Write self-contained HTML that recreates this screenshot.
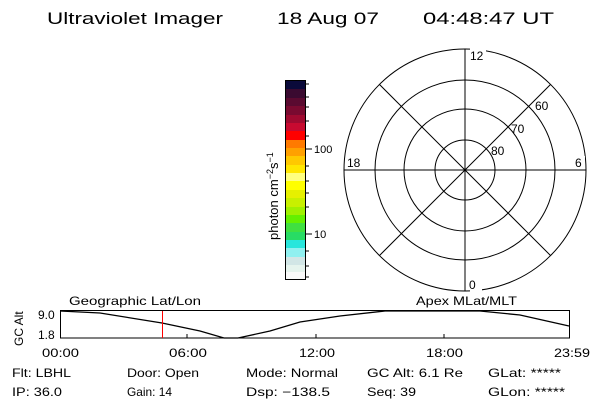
<!DOCTYPE html><html><head><style>body{margin:0;background:#fff}svg{display:block}text{font-family:"Liberation Sans",sans-serif;fill:#000}</style></head><body>
<svg width="600" height="400" xmlns="http://www.w3.org/2000/svg">
<g font-size="17" lengthAdjust="spacingAndGlyphs"><text x="47" y="24" textLength="176" lengthAdjust="spacingAndGlyphs">Ultraviolet Imager</text><text x="277" y="24" textLength="102" lengthAdjust="spacingAndGlyphs">18 Aug 07</text><text x="423" y="24" textLength="131" lengthAdjust="spacingAndGlyphs">04:48:47 UT</text></g>
<g stroke="#000" fill="none" stroke-width="1">
<circle cx="465" cy="170" r="121"/><circle cx="465" cy="170" r="90"/><circle cx="465" cy="170" r="61"/><circle cx="465" cy="170" r="30"/>
<line x1="465" y1="49" x2="465" y2="291"/><line x1="344" y1="170" x2="586" y2="170"/>
<line x1="379.4" y1="84.4" x2="550.6" y2="255.6"/><line x1="550.6" y1="84.4" x2="379.4" y2="255.6"/>
</g>
<rect x="470" y="48" width="16" height="14" fill="#fff"/><rect x="470" y="278" width="12" height="14" fill="#fff"/>
<rect x="346" y="156" width="18" height="13" fill="#fff"/><rect x="573" y="156" width="12" height="13" fill="#fff"/>
<g font-size="12"><text x="470" y="60">12</text><text x="469" y="289">0</text><text x="347" y="167">18</text><text x="575" y="167">6</text>
<text x="535" y="110">60</text><text x="511" y="133">70</text><text x="491" y="155">80</text></g>
<g font-size="11"><text x="314" y="153">100</text><text x="314" y="238">10</text>
<text transform="translate(278,240) rotate(-90)" font-size="13">photon cm<tspan dy="-5" font-size="9">−2</tspan><tspan dy="5">s</tspan><tspan dy="-5" font-size="9">−1</tspan></text></g>
<g font-size="12"><text x="69" y="305" textLength="132" lengthAdjust="spacingAndGlyphs">Geographic Lat/Lon</text><text x="416" y="305" textLength="101" lengthAdjust="spacingAndGlyphs">Apex MLat/MLT</text>
<text x="38" y="319">9.0</text><text x="38" y="339">1.8</text>
<text transform="translate(23,346) rotate(-90)">GC Alt</text>
<text x="42" y="357" textLength="37" lengthAdjust="spacingAndGlyphs">00:00</text><text x="169" y="357" textLength="38" lengthAdjust="spacingAndGlyphs">06:00</text><text x="299" y="357" textLength="36" lengthAdjust="spacingAndGlyphs">12:00</text><text x="426" y="357" textLength="37" lengthAdjust="spacingAndGlyphs">18:00</text><text x="554" y="357" textLength="36" lengthAdjust="spacingAndGlyphs">23:59</text>
<text x="12" y="377" textLength="59" lengthAdjust="spacingAndGlyphs">Flt: LBHL</text><text x="127" y="377" textLength="72" lengthAdjust="spacingAndGlyphs">Door: Open</text><text x="246" y="377" textLength="92" lengthAdjust="spacingAndGlyphs">Mode: Normal</text><text x="367" y="377" textLength="96" lengthAdjust="spacingAndGlyphs">GC Alt: 6.1 Re</text><text x="488" y="377" textLength="73" lengthAdjust="spacingAndGlyphs">GLat: *****</text>
<text x="12" y="396" textLength="50" lengthAdjust="spacingAndGlyphs">IP: 36.0</text><text x="127" y="396" textLength="45" lengthAdjust="spacingAndGlyphs">Gain: 14</text><text x="246" y="396" textLength="84" lengthAdjust="spacingAndGlyphs">Dsp: −138.5</text><text x="367" y="396" textLength="49" lengthAdjust="spacingAndGlyphs">Seq: 39</text><text x="488" y="396" textLength="77" lengthAdjust="spacingAndGlyphs">GLon: *****</text></g>
<rect x="60.5" y="310.5" width="509" height="27.5" fill="none" stroke="#000"/>
<g stroke="#000"><line x1="187" y1="338" x2="187" y2="334"/><line x1="316" y1="338" x2="316" y2="334"/><line x1="444" y1="338" x2="444" y2="334"/></g>
<polyline fill="none" stroke="#000" stroke-width="1.3" points="60,311 100,313 162,323 200,331 224,338 238,338 270,331 300,322 340,316 385,311 480,311 520,315 569,326"/>
<line x1="162.5" y1="311" x2="162.5" y2="338" stroke="#f00"/>
<g>
<rect x="285" y="80" width="21" height="9" fill="#0a0a3a"/>
<rect x="285" y="89" width="21" height="9" fill="#3a0a30"/>
<rect x="285" y="98" width="21" height="8" fill="#5a0a30"/>
<rect x="285" y="106" width="21" height="9" fill="#7a0a30"/>
<rect x="285" y="115" width="21" height="8" fill="#a00a30"/>
<rect x="285" y="123" width="21" height="8" fill="#c80a30"/>
<rect x="285" y="131" width="21" height="9" fill="#ff0000"/>
<rect x="285" y="140" width="21" height="8" fill="#ff7a00"/>
<rect x="285" y="148" width="21" height="8" fill="#ffa000"/>
<rect x="285" y="156" width="21" height="9" fill="#ffc800"/>
<rect x="285" y="165" width="21" height="8" fill="#ffe600"/>
<rect x="285" y="173" width="21" height="8" fill="#ffff80"/>
<rect x="285" y="181" width="21" height="9" fill="#ffff00"/>
<rect x="285" y="190" width="21" height="8" fill="#e6f000"/>
<rect x="285" y="198" width="21" height="9" fill="#c8f000"/>
<rect x="285" y="207" width="21" height="8" fill="#a0f000"/>
<rect x="285" y="215" width="21" height="8" fill="#64f000"/>
<rect x="285" y="223" width="21" height="9" fill="#40e040"/>
<rect x="285" y="232" width="21" height="8" fill="#28dc64"/>
<rect x="285" y="240" width="21" height="8" fill="#28e6dc"/>
<rect x="285" y="248" width="21" height="9" fill="#90f0f0"/>
<rect x="285" y="257" width="21" height="8" fill="#d2e6e6"/>
<rect x="285" y="265" width="21" height="7" fill="#e6f4ee"/>
<rect x="285" y="272" width="21" height="7" fill="#fafafa"/>
<rect x="285.5" y="80.5" width="20" height="199" fill="none" stroke="#000"/>
<g stroke="#000"><line x1="306" y1="149" x2="312" y2="149"/><line x1="306" y1="234" x2="312" y2="234"/>
<line x1="306" y1="84" x2="309" y2="84"/><line x1="306" y1="97" x2="309" y2="97"/><line x1="306" y1="107" x2="309" y2="107"/><line x1="306" y1="121" x2="309" y2="121"/><line x1="306" y1="136" x2="309" y2="136"/>
<line x1="306" y1="166" x2="309" y2="166"/><line x1="306" y1="181" x2="309" y2="181"/><line x1="306" y1="193" x2="309" y2="193"/><line x1="306" y1="207" x2="309" y2="207"/>
<line x1="306" y1="251" x2="309" y2="251"/><line x1="306" y1="266" x2="309" y2="266"/><line x1="306" y1="277" x2="309" y2="277"/></g>
</g>
</svg></body></html>
